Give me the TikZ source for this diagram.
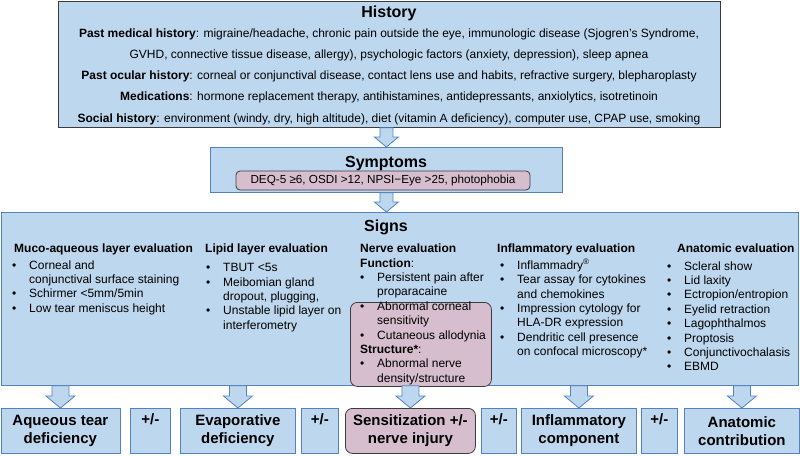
\documentclass[tikz,border=0pt]{standalone}
\usepackage{fontspec}
\setmainfont{Liberation Sans}
\usetikzlibrary{calc}
\definecolor{boxblue}{RGB}{189,215,238}
\definecolor{lineblue}{RGB}{84,130,190}
\definecolor{mauve}{RGB}{214,190,207}
\definecolor{darkline}{RGB}{60,60,60}
\newcommand{\itm}{\makebox[17pt][l]{\textbullet}}
\newcommand{\cnt}{\hspace*{17pt}}
% from, to, half shaft, half head, head length
\newcommand{\blockarrow}[5]{%
  \draw[arrowline] ($(#1)+(-#3,0)$) -- ($(#2)+(-#3,-#5)$) -- ($(#2)+(-#4,-#5)$) -- (#2)
    -- ($(#2)+(#4,-#5)$) -- ($(#2)+(#3,-#5)$) -- ($(#1)+(#3,0)$) -- cycle;}

\begin{document}
\begin{tikzpicture}[x=1pt,y=-1pt,
  frame/.style={draw=lineblue, fill=boxblue, line width=0.8pt, inner sep=0pt, anchor=north west},
  pinkbox/.style={draw=darkline, fill=mauve, rounded corners=7pt, line width=0.8pt, inner sep=0pt},
  title/.style={font=\fontsize{16}{20}\selectfont\bfseries, anchor=base, inner sep=0pt},
  head/.style={font=\fontsize{12}{14}\selectfont\bfseries, anchor=base west, inner sep=0pt},
  list/.style={font=\fontsize{12}{14.4}\selectfont, align=left, anchor=north west, inner sep=0pt},
  result/.style={frame, align=center, minimum height=45pt, font=\fontsize{15}{18}\selectfont\bfseries},
  arrowline/.style={draw=lineblue, fill=boxblue, line width=0.8pt, line join=miter}]
\useasboundingbox (0,0) rectangle (800,455);

\node[frame, draw=darkline, minimum width=662pt, minimum height=126pt] (hist) at (58,1) {};
\node[title] (histtitle) at (389,17.5) {History};
\node[font=\fontsize{12}{21.25}\selectfont, align=center, anchor=north, inner sep=0pt] (histtext) at (389,28.2)
  {\textbf{Past medical history}: migraine/headache, chronic pain outside the eye, immunologic disease (Sjogren’s Syndrome,\\
   GVHD, connective tissue disease, allergy), psychologic factors (anxiety, depression), sleep apnea\\
   \textbf{Past ocular history}: corneal or conjunctival disease, contact lens use and habits, refractive surgery, blepharoplasty\\
   \textbf{Medications}: hormone replacement therapy, antihistamines, antidepressants, anxiolytics, isotretinoin\\
   \textbf{Social history}: environment (windy, dry, high altitude), diet (vitamin A deficiency), computer use, CPAP use, smoking};

\node[frame, minimum width=352pt, minimum height=45pt] (symp) at (210,147) {};
\node[title] (symptitle) at (386,167.5) {Symptoms};
\node[pinkbox, rounded corners=4pt, minimum width=294pt, minimum height=19pt, font=\fontsize{11.7}{14}\selectfont]
  (sympscore) at (383,180.5) {DEQ-5 ≥6, OSDI >12, NPSI−Eye >25, photophobia};

\node[frame, minimum width=797pt, minimum height=173pt] (signs) at (0.5,212) {};
\node[title] (signstitle) at (386,231.5) {Signs};
\node[pinkbox, minimum width=141pt, minimum height=84pt, anchor=north west] (nervebox) at (350,302) {};

\node[head] (mucohead) at (14,252.3) {Muco-aqueous layer evaluation};
\node[list] (mucolist) at (12,260.2) {\itm Corneal and\\ \cnt conjunctival surface staining\\
  \itm Schirmer <5mm/5min\\ \itm Low tear meniscus height};

\node[head] (lipidhead) at (205,252.3) {Lipid layer evaluation};
\node[list] (lipidlist) at (206,263.2) {\itm TBUT <5s\\ \itm Meibomian gland\\ \cnt dropout, plugging,\\
  \itm Unstable lipid layer on\\ \cnt interferometry};

\node[head] (nervehead) at (360,252.3) {Nerve evaluation};
\node[list] (nervelist) at (360,258.2) {\textbf{Function}:\\ \itm Persistent pain after\\ \cnt proparacaine\\
  \itm Abnormal corneal\\ \cnt sensitivity\\ \itm Cutaneous allodynia\\ \textbf{Structure*}:\\
  \itm Abnormal nerve\\ \cnt density/structure};

\node[head] (inflhead) at (497,252.3) {Inflammatory evaluation};
\node[list] (infllist) at (500,259.2) {\itm Inflammadry\textsuperscript{®}\\ \itm Tear assay for cytokines\\
  \cnt and chemokines\\ \itm Impression cytology for\\ \cnt HLA-DR expression\\
  \itm Dendritic cell presence\\ \cnt on confocal microscopy*};

\node[head] (anathead) at (677,252.3) {Anatomic evaluation};
\node[list] (anatlist) at (667,261.2) {\itm Scleral show\\ \itm Lid laxity\\ \itm Ectropion/entropion\\
  \itm Eyelid retraction\\ \itm Lagophthalmos\\ \itm Proptosis\\ \itm Conjunctivochalasis\\ \itm EBMD};

\node[result, minimum width=119pt] (aq) at (0.5,408) {Aqueous tear\\ deficiency};
\node[result, minimum width=40pt] (pm1) at (130,408) {+/-\\ \strut};
\node[result, minimum width=115pt] (evap) at (180,408) {Evaporative\\ deficiency};
\node[result, minimum width=37pt] (pm2) at (301,408) {+/-\\ \strut};
\node[result, pinkbox, anchor=north west, rounded corners=7pt, minimum width=130pt] (sens) at (345,408)
  {Sensitization +/-\\ nerve injury};
\node[result, minimum width=35pt] (pm3) at (481,408) {+/-\\ \strut};
\node[result, minimum width=115pt] (infl) at (521,408) {Inflammatory\\ component};
\node[result, minimum width=36pt] (pm4) at (641,408) {+/-\\ \strut};
\node[result, minimum width=115pt] (anat) at (684,408) {Anatomic\\ contribution};

\blockarrow{hist.south -| symp.north}{symp.north}{6.5}{12}{10}
\blockarrow{symp.south}{signs.north -| symp.south}{6.5}{12}{10}
\foreach \b in {aq,evap,sens,infl,anat}
  {\blockarrow{signs.south -| \b.north}{\b.north}{8.5}{14.5}{12}}
\end{tikzpicture}
\end{document}
